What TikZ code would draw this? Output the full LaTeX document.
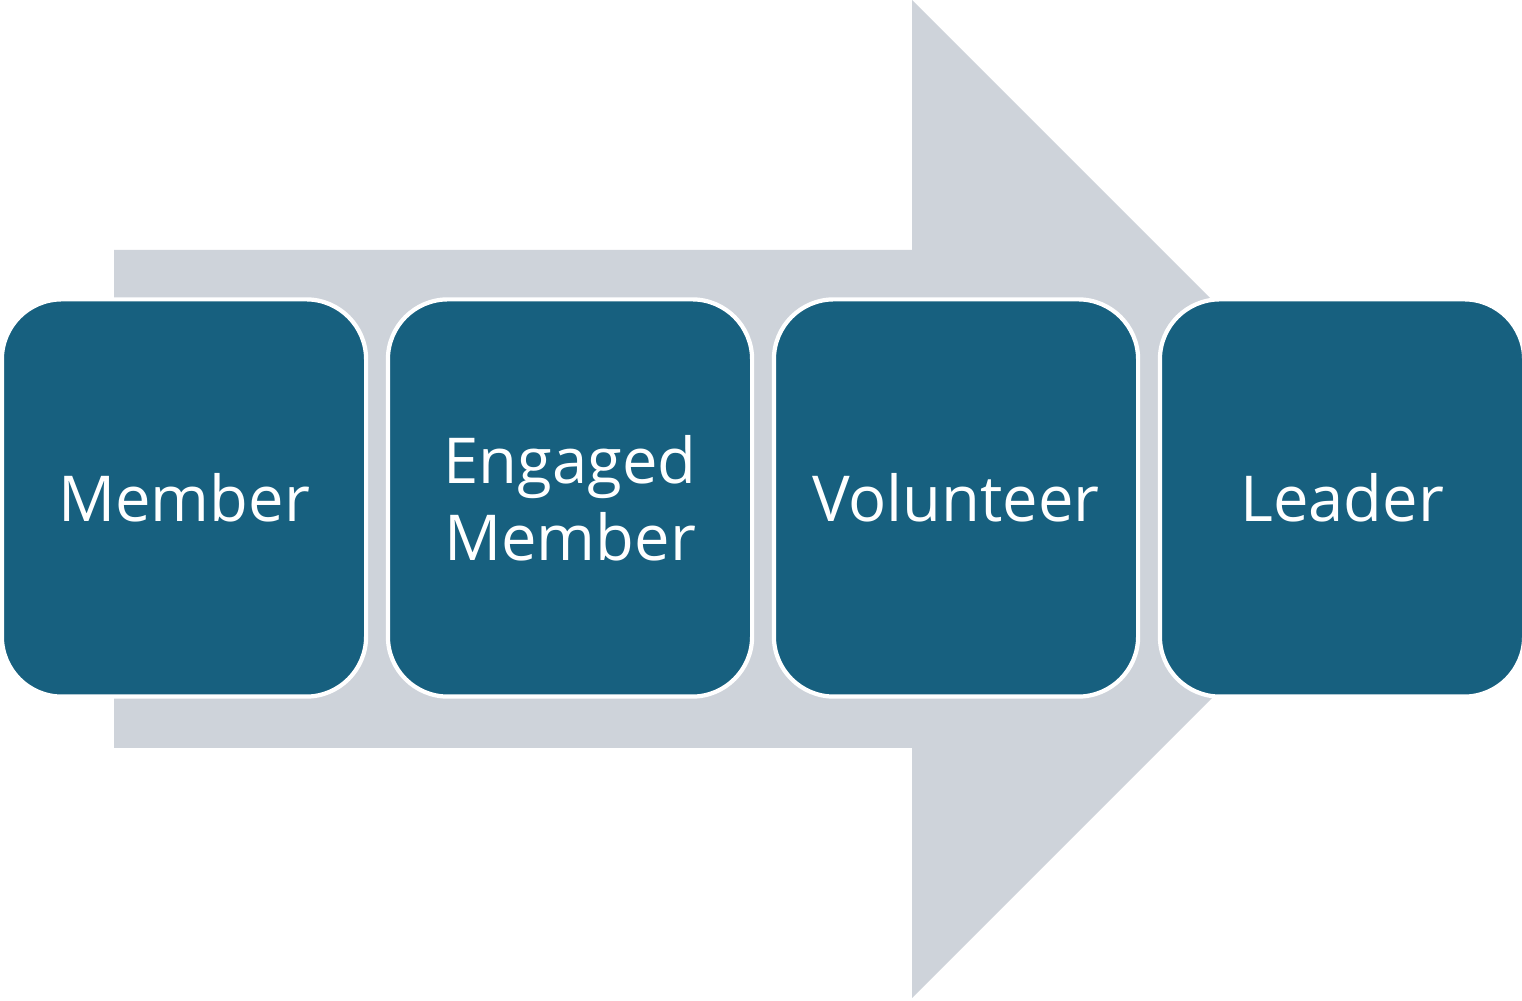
\documentclass[tikz,border=0pt]{standalone}
\usepackage{fontspec}
\setmainfont{Open Sans}
\usepackage{tikz}

\definecolor{stageblue}{HTML}{17607F}
\definecolor{arrowgray}{HTML}{CED3DA}

\tikzset{
  stage/.style={rectangle, rounded corners=0.6cm, fill=stageblue, draw=white,
    line width=1.2pt, minimum width=3.64cm, minimum height=3.97cm,
    text=white, align=center, font=\fontsize{18}{22}\selectfont, inner sep=0pt}
}

\begin{document}
\begin{tikzpicture}[x=0.01cm, y=0.01cm]
            \useasboundingbox (0,0) rectangle (1522,1001);

            % Big arrow behind the stages
            \fill[arrowgray] (114,751) -- (912,751) -- (912,1001) -- (1411,502)
              -- (912,3) -- (912,253) -- (114,253) -- cycle;

            % Stages along the arrow
            \foreach \i/\txt in {1/Member, 2/{Engaged\\Member}, 3/Volunteer, 4/Leader}
            \node[stage] (S\i) at (184+386*\i-386, 503) {\txt};
        \end{tikzpicture}
\end{document}
